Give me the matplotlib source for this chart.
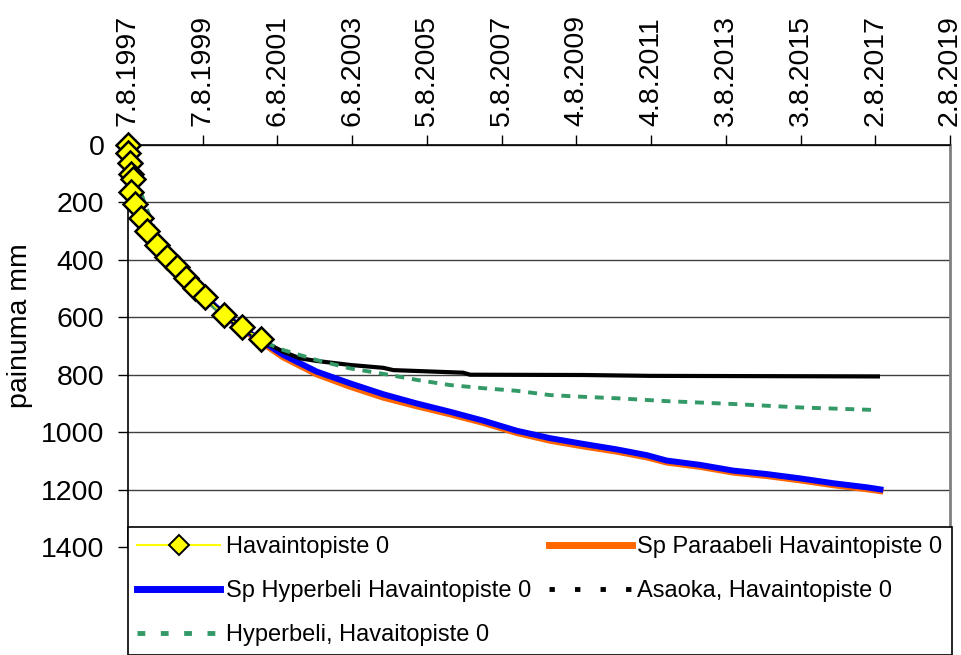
import numpy as np
import matplotlib
matplotlib.use("Agg")
import matplotlib.pyplot as plt
from matplotlib.lines import Line2D

plt.rcParams['font.family'] = ['Liberation Sans', 'DejaVu Sans']

# start date of the measurements, all days below are counted from it
start = np.datetime64('1997-08-07')

# observed settlement (Havaintopiste 0)
obs_days = [0, 2, 15, 26, 46, 27, 68, 124, 189, 280, 378, 482, 567, 655, 752, 938, 1111, 1296]
obs_vals = [0, 27, 63, 102, 119, 163, 205, 255, 298, 348, 391, 426, 464, 499, 530, 592, 635, 677]

# Sp Hyperbeli / Sp Paraabeli predictions
sp_days = [0, 30, 70, 125, 190, 280, 380, 480, 570, 660, 750, 940, 1110, 1296, 1517, 1843,
           2169, 2494, 2820, 3146, 3471, 3797, 4123, 4448, 4774, 5067, 5263, 5588, 5914,
           6240, 6565, 6891, 7216, 7379]
hyp_vals = [0, 100, 195, 252, 298, 346, 390, 428, 464, 497, 528, 590, 636, 680, 731, 789,
            830, 868, 900, 929, 960, 995, 1021, 1041, 1060, 1080, 1099, 1114, 1134,
            1146, 1161, 1178, 1192, 1201]
par_vals = [0, 100, 195, 253, 299, 347, 391, 429, 465, 498, 530, 593, 640, 686, 740, 799,
            842, 880, 910, 938, 968, 1003, 1030, 1050, 1068, 1088, 1106, 1121, 1141,
            1153, 1168, 1185, 1199, 1207]

# Asaoka
asa_days = [0, 30, 70, 125, 190, 280, 380, 480, 570, 660, 750, 940, 1110, 1296, 1387, 1517,
            1680, 1843, 2169, 2494, 2592, 2820, 3276, 3341, 4448, 5100, 7326]
asa_vals = [0, 100, 195, 252, 298, 346, 390, 428, 464, 497, 528, 590, 636, 678, 696, 720,
            743, 752, 766, 776, 784, 787, 793, 800, 801, 804, 806]

# Hyperbeli
hb_days = [0, 40, 85, 150, 250, 380, 500, 650, 818, 996, 1192, 1355, 1517, 1843, 2169, 2494,
           2820, 3146, 3471, 3797, 4123, 4448, 4774, 5067, 5263, 5914, 6565, 7314]
hb_vals = [0, 60, 122, 190, 285, 380, 436, 496, 557, 615, 655, 690, 714, 749, 778, 797,
           818, 836, 847, 856, 871, 877, 882, 888, 892, 902, 914, 923]

tick_dates = ['1997-08-07', '1999-08-07', '2001-08-06', '2003-08-06', '2005-08-05',
              '2007-08-05', '2009-08-04', '2011-08-04', '2013-08-03', '2015-08-03',
              '2017-08-02', '2019-08-02']
tick_labels = ['7.8.1997', '7.8.1999', '6.8.2001', '6.8.2003', '5.8.2005', '5.8.2007',
               '4.8.2009', '4.8.2011', '3.8.2013', '3.8.2015', '2.8.2017', '2.8.2019']
y_ticks = [0, 200, 400, 600, 800, 1000, 1200, 1400]


def to_dates(days):
    return start + np.array(days, dtype='timedelta64[D]')


W, H = 962, 655
fig = plt.figure(figsize=(W / 100, H / 100), dpi=100)
ax = fig.add_axes([128 / W, 1 - 547 / H, (950 - 128) / W, (547 - 145) / H])

ax.plot(to_dates(sp_days), par_vals, color='#FF6600', lw=4.3, solid_capstyle='butt', zorder=2)
ax.plot(to_dates(sp_days), hyp_vals, color='#0000FF', lw=4.3, solid_capstyle='butt', zorder=3)
ax.plot(to_dates(asa_days), asa_vals, color='black', lw=3, zorder=4)
ax.plot(to_dates(hb_days), hb_vals, color='#339966', lw=2.8, linestyle=(0, (2.3, 2.0)), zorder=5)
ax.plot(to_dates(obs_days), obs_vals, color='#FFFF00', lw=1, marker='D', ms=12,
        mfc='#FFFF00', mec='black', mew=1.8, zorder=6, clip_on=False)

tick_pos = np.array(tick_dates, dtype='datetime64[D]')
ax.set_xlim(tick_pos[0], tick_pos[-1])
ax.set_xticks(tick_pos)
ax.set_xticklabels(tick_labels)
ax.xaxis.tick_top()
ax.tick_params(axis='x', direction='out', length=7, width=1, pad=7, labelsize=20.5,
               labelrotation=90)

ax.set_ylim(1400, 0)
ax.set_yticks(y_ticks)
ax.tick_params(axis='y', direction='out', length=7, width=1, pad=10, labelsize=20.5)
ax.grid(axis='y', color='#404040', lw=1)
ax.grid(axis='x', visible=False)

for s in ['left', 'top']:
    ax.spines[s].set_color('black')
    ax.spines[s].set_linewidth(1.2)
ax.spines['right'].set_color('#808080')
ax.spines['right'].set_linewidth(2)
ax.spines['bottom'].set_visible(False)

fig.text(20 / W, 1 - 326 / H, 'painuma mm', rotation=90, ha='center', va='center', fontsize=20.5)

handles = [
    Line2D([], [], color='#FFFF00', lw=1.5, marker='D', ms=10, mfc='#FFFF00', mec='black', mew=1.4),
    Line2D([], [], color='#0000FF', lw=5),
    Line2D([], [], color='#339966', lw=3.5, linestyle=(0, (1.6, 3.2))),
    Line2D([], [], color='#FF6600', lw=5),
    Line2D([], [], color='black', lw=3.5, linestyle=(0, (1.1, 4.15))),
]
labels = ['Havaintopiste 0', 'Sp Hyperbeli Havaintopiste 0', 'Hyperbeli, Havaitopiste 0',
          'Sp Paraabeli Havaintopiste 0', 'Asaoka, Havaintopiste 0']
leg = fig.legend(handles, labels, loc='upper left', ncol=2, mode='expand',
                 bbox_to_anchor=(128 / W, 1 - 527 / H, (952 - 128) / W, 0),
                 borderaxespad=0, fontsize=17, frameon=True, fancybox=False,
                 edgecolor='black', framealpha=1, handlelength=3.5, handletextpad=0.25,
                 labelspacing=0.92, borderpad=0.4)
leg.get_frame().set_linewidth(1.2)

fig.savefig('out.png', dpi=100)
